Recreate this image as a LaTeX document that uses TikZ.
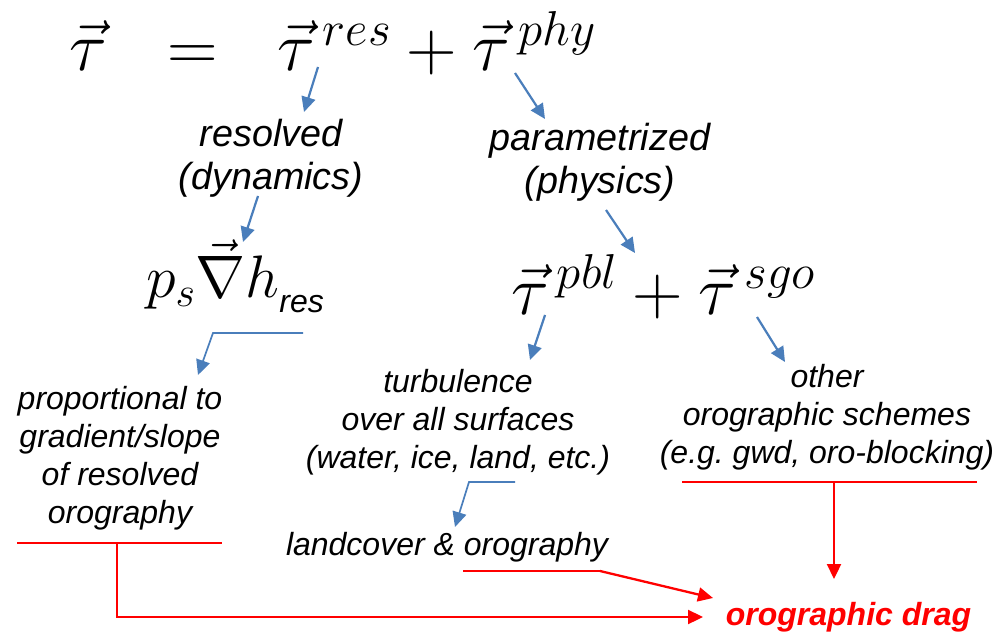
\RequirePackage{fix-cm}
\documentclass[tikz,border=0pt]{standalone}
\usepackage{fontspec}
\newfontfamily\arial{Liberation Sans}
\usetikzlibrary{arrows.meta}
\definecolor{arrblue}{RGB}{74,126,187}
\definecolor{dragred}{RGB}{255,0,0}
\begin{document}
\begin{tikzpicture}[x=1pt,y=-1pt,
  mathbig/.style={inner sep=0pt, font=\fontsize{70}{84}\selectfont},
  mathmid/.style={inner sep=0pt, font=\fontsize{60}{72}\selectfont},
  toplbl/.style={inner sep=0pt, align=center, font=\arial\itshape\fontsize{37.7}{43.5}\selectfont},
  lbl/.style={inner sep=0pt, align=center, font=\arial\itshape\fontsize{32}{37.8}\selectfont},
  draglbl/.style={inner sep=0pt, text=dragred, font=\arial\bfseries\itshape\fontsize{32}{37.8}\selectfont},
  bluearr/.style={draw=arrblue, line width=2.2pt, -{Triangle[length=15pt,width=14pt]}},
  bluebracket/.style={draw=arrblue, line width=1.7pt, -{Triangle[length=15pt,width=14pt]}},
  redline/.style={draw=dragred, line width=1.5pt},
  redarr/.style={draw=dragred, line width=2.3pt, -{Triangle[length=15pt,width=14pt]}}]
\useasboundingbox[fill=white] (0,0) rectangle (998,636);

% equations
\node[mathbig, anchor=base west] (eqtau) at (69,71) {$\vec\tau$};
\node[mathbig, anchor=base] (eqeq) at (192.5,71) {$=$};
\node[mathbig, anchor=base west] (eqsum) at (277,71) {$\vec\tau^{\,res}+\vec\tau^{\,phy}$};
\node[mathmid, anchor=base west] (gradterm) at (146,298) {$p_s\vec\nabla h$\kern0pt\raisebox{-15pt}{\arial\itshape\fontsize{32}{38}\selectfont res}};
\node[mathbig, anchor=base west] (physum) at (511,314) {$\vec\tau^{\,pbl}+\vec\tau^{\,sgo}$};

% labels (base anchor = baseline of the last line)
\node[toplbl, anchor=base] (resolved) at (271,190) {resolved\\(dynamics)};
\node[toplbl, anchor=base] (param) at (600,194) {parametrized\\(physics)};
\node[lbl, anchor=base] (propto) at (120,523) {proportional to\\gradient/slope\\of resolved\\orography};
\node[lbl, anchor=base] (turb) at (458,468) {turbulence\\over all surfaces\\(water, ice, land, etc.)};
\node[lbl, anchor=base] (other) at (827,463) {other\\orographic schemes\\(e.g.\ gwd, oro-blocking)};
\node[lbl, anchor=base] (landcover) at (447,555) {landcover \& orography};
\node[draglbl, anchor=base] (drag) at (848.5,625) {orographic drag};

% connector points
\coordinate (a1s) at (318,67);  \coordinate (a1e) at (304,112);
\coordinate (a2s) at (515,73);  \coordinate (a2e) at (545,119);
\coordinate (a3s) at (258,196); \coordinate (a3e) at (243,242);
\coordinate (a4s) at (606,210); \coordinate (a4e) at (635,253);
\coordinate (a5s) at (303,333); \coordinate (a5b) at (213,333); \coordinate (a5e) at (198,375);
\coordinate (a6s) at (545,315); \coordinate (a6e) at (530,360);
\coordinate (a7s) at (757,317); \coordinate (a7e) at (785,362);
\coordinate (a8s) at (515,482); \coordinate (a8b) at (469,482); \coordinate (a8e) at (455,527);

\coordinate (u1l) at (17,543);  \coordinate (u1r) at (222,543); \coordinate (u1m) at (117,543);
\coordinate (c1b) at (117,617); \coordinate (c1e) at (703,617);
\coordinate (u2l) at (463,571); \coordinate (u2r) at (600,571); \coordinate (c2e) at (713,598);
\coordinate (u3l) at (682,482); \coordinate (u3r) at (977,482); \coordinate (u3m) at (834,482);
\coordinate (c3e) at (834,579);

% blue connectors
\draw[bluearr] (a1s) -- (a1e);
\draw[bluearr] (a2s) -- (a2e);
\draw[bluearr] (a3s) -- (a3e);
\draw[bluearr] (a4s) -- (a4e);
\draw[bluebracket] (a5s) -- (a5b) -- (a5e);
\draw[bluearr] (a6s) -- (a6e);
\draw[bluearr] (a7s) -- (a7e);
\draw[bluebracket] (a8s) -- (a8b) -- (a8e);

% red connectors
\draw[redline] (u1l) -- (u1r);
\draw[redarr] (u1m) -- (c1b) -- (c1e);
\draw[redline] (u2l) -- (u2r);
\draw[redarr] (u2r) -- (c2e);
\draw[redline] (u3l) -- (u3r);
\draw[redarr] (u3m) -- (c3e);
\end{tikzpicture}
\end{document}
